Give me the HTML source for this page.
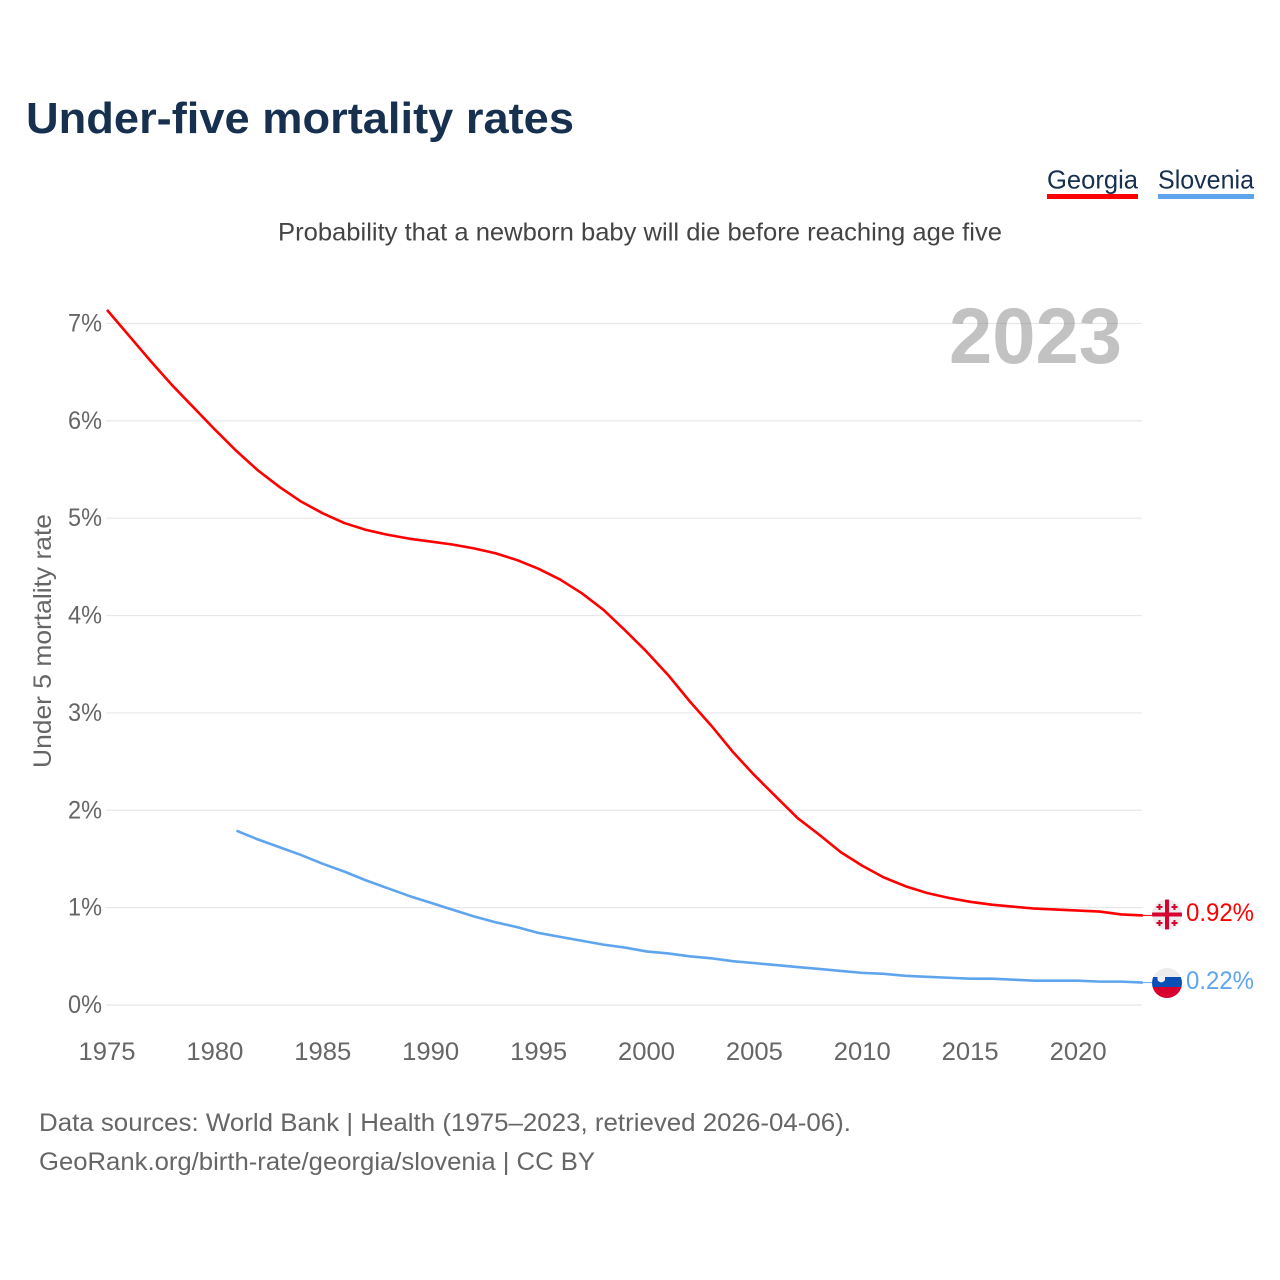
<!DOCTYPE html>
<html lang="en">
<head>
<meta charset="utf-8">
<title>Under-five mortality rates</title>
<style>
html,body{margin:0;padding:0;background:#fff;width:1280px;height:1280px;overflow:hidden}
svg{display:block}
text{font-family:"Liberation Sans",sans-serif}
</style>
</head>
<body>
<svg id="chart" width="1280" height="1280" viewBox="0 0 1280 1280" xmlns="http://www.w3.org/2000/svg">
<defs>
<clipPath id="geo-clip"><circle cx="1167" cy="914.5" r="15"/></clipPath>
<clipPath id="svn-clip"><circle cx="1167" cy="983" r="15"/></clipPath>
</defs>
<rect width="1280" height="1280" fill="#fff"/>
<text x="26" y="133" font-size="44" font-weight="700" fill="#18304f" textLength="548" lengthAdjust="spacingAndGlyphs">Under-five mortality rates</text>
<text x="278" y="240.500" font-size="25" fill="#444" textLength="724" lengthAdjust="spacingAndGlyphs">Probability that a newborn baby will die before reaching age five</text>

<g>
<text x="1047" y="188.500" font-size="26" fill="#18304f" textLength="91" lengthAdjust="spacingAndGlyphs">Georgia</text>
<rect x="1047" y="194" width="91" height="5" fill="#ff0000"/>
</g>
<g>
<text x="1158" y="188.500" font-size="26" fill="#18304f" textLength="96" lengthAdjust="spacingAndGlyphs">Slovenia</text>
<rect x="1158" y="194" width="96" height="5" fill="#5fa5ee"/>
</g>

<g id="grid"></g>
<g id="ylabels"></g>
<g id="xlabels"></g>
<text transform="translate(51,768) rotate(-90)" x="0" y="0" font-size="25" fill="#666" textLength="254" lengthAdjust="spacingAndGlyphs">Under 5 mortality rate</text>
<text x="949" y="363" font-size="79" font-weight="700" fill="#777" fill-opacity="0.45" textLength="173" lengthAdjust="spacingAndGlyphs">2023</text>
<g id="series"></g>

<g clip-path="url(#geo-clip)">
<rect x="1150" y="897" width="35" height="35" fill="#ececec"/>
<rect x="1165" y="897" width="4" height="35" fill="#d8002f"/>
<rect x="1150" y="912.5" width="35" height="4" fill="#d8002f"/>
<g fill="#d8002f">
<rect x="1158.500" y="904" width="2" height="6"/><rect x="1156.500" y="906" width="6" height="2"/>
<rect x="1173.500" y="904" width="2" height="6"/><rect x="1171.500" y="906" width="6" height="2"/>
<rect x="1158.500" y="920" width="2" height="6"/><rect x="1156.500" y="922" width="6" height="2"/>
<rect x="1173.500" y="920" width="2" height="6"/><rect x="1171.500" y="922" width="6" height="2"/>
</g>
</g>
<g clip-path="url(#svn-clip)">
<rect x="1150" y="966" width="35" height="11" fill="#ececec"/>
<rect x="1150" y="977" width="35" height="10" fill="#0a4fb5"/>
<rect x="1150" y="987" width="35" height="13" fill="#d8002f"/>
<path d="M1157.500 976.500h7.500v3c0 1.500-2 2.500-3.750 3c-1.750-.5-3.750-1.500-3.750-3z" fill="#f2f2f2"/>
</g>
<text x="1186" y="921" font-size="25" fill="#ff0000" textLength="68" lengthAdjust="spacingAndGlyphs">0.92%</text>
<text x="1186" y="989" font-size="25" fill="#5fa5ee" textLength="68" lengthAdjust="spacingAndGlyphs">0.22%</text>

<text x="39" y="1131" font-size="25" fill="#666" textLength="812" lengthAdjust="spacingAndGlyphs">Data sources: World Bank | Health (1975–2023, retrieved 2026-04-06).</text>
<text x="39" y="1170" font-size="25" fill="#666" textLength="556" lengthAdjust="spacingAndGlyphs">GeoRank.org/birth-rate/georgia/slovenia | CC BY</text>
</svg>
<script>
const yTicks = [0, 1, 2, 3, 4, 5, 6, 7];
const xTicks = [1975, 1980, 1985, 1990, 1995, 2000, 2005, 2010, 2015, 2020];
const georgiaStart = 1975;
const georgiaValues = [7.14, 6.88, 6.62, 6.37, 6.14, 5.91, 5.69, 5.49, 5.32, 5.17, 5.05, 4.95, 4.88, 4.83, 4.79, 4.76, 4.73, 4.69, 4.64, 4.57, 4.48, 4.37, 4.23, 4.06, 3.85, 3.63, 3.39, 3.12, 2.87, 2.60, 2.36, 2.14, 1.92, 1.75, 1.57, 1.43, 1.31, 1.22, 1.15, 1.10, 1.06, 1.03, 1.01, 0.99, 0.98, 0.97, 0.96, 0.93, 0.92];
const sloveniaStart = 1981;
const sloveniaValues = [1.79, 1.70, 1.62, 1.54, 1.45, 1.37, 1.28, 1.20, 1.12, 1.05, 0.98, 0.91, 0.85, 0.80, 0.74, 0.70, 0.66, 0.62, 0.59, 0.55, 0.53, 0.50, 0.48, 0.45, 0.43, 0.41, 0.39, 0.37, 0.35, 0.33, 0.32, 0.30, 0.29, 0.28, 0.27, 0.27, 0.26, 0.25, 0.25, 0.25, 0.24, 0.24, 0.23];

const NS = 'http://www.w3.org/2000/svg';
function xScale(year) { return 107 + (year - 1975) * 21.58; }
function yScale(v) { return 1005 - v * 97.36; }
function mk(tag, attrs, parent, txt) {
  const el = document.createElementNS(NS, tag);
  for (const k in attrs) el.setAttribute(k, attrs[k]);
  if (txt !== undefined) el.textContent = txt;
  parent.appendChild(el);
  return el;
}
const grid = document.getElementById('grid');
const ylabels = document.getElementById('ylabels');
const xlabels = document.getElementById('xlabels');
const series = document.getElementById('series');

yTicks.forEach(function (t) {
  const line = mk('line', { x1: 106, x2: 1142, y1: yScale(t), y2: yScale(t), stroke: '#e8e8e8', 'stroke-width': 1.2 }, grid);
  
  
  const lab = mk('text', { x: 68, y: yScale(t) + 8, 'font-size': 25, fill: '#666', textLength: 34, lengthAdjust: 'spacingAndGlyphs' }, ylabels, t + '%');
  
  
});
xTicks.forEach(function (t) {
  const lab = mk('text', { x: xScale(t), y: 1060, 'text-anchor': 'middle', 'font-size': 25, fill: '#666', textLength: 57, lengthAdjust: 'spacingAndGlyphs' }, xlabels, String(t));
  
  
});
function drawLine(values, start, color, name) {
  const pts = values.map(function (v, i) { return xScale(start + i).toFixed(2) + ',' + yScale(v).toFixed(2); });
  const line = mk('polyline', { points: pts.join(' '), fill: 'none', stroke: color, 'stroke-width': 2.6, 'stroke-linejoin': 'round' }, series);
  
  
  const lastV = values[values.length - 1];
  const lastX = xScale(start + values.length - 1);
  const lead = mk('line', { x1: lastX, x2: 1152, y1: yScale(lastV), y2: yScale(lastV), stroke: color, 'stroke-width': 1 }, series);
  
  
}
drawLine(sloveniaValues, sloveniaStart, '#5fa5ee', 'slovenia-line');
drawLine(georgiaValues, georgiaStart, '#ff0000', 'georgia-line');
</script>
</body>
</html>
